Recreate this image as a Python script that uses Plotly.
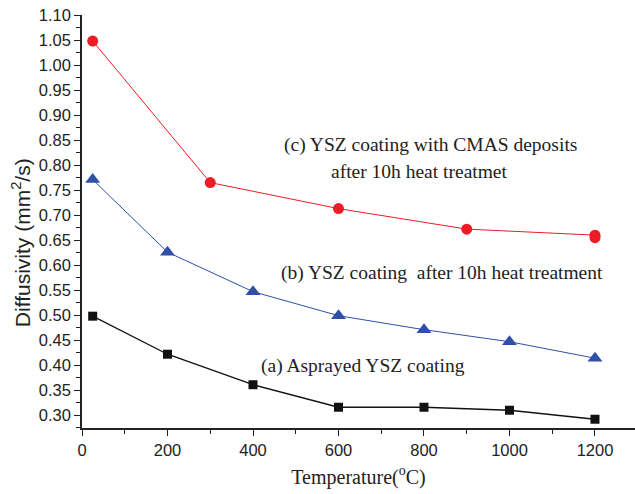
import plotly.graph_objects as go

temp_a = [25, 200, 400, 600, 800, 1000, 1200]
diff_a = [0.498, 0.422, 0.361, 0.316, 0.316, 0.310, 0.292]

temp_b = [25, 200, 400, 600, 800, 1000, 1200]
diff_b = [0.771, 0.626, 0.547, 0.499, 0.471, 0.447, 0.414]

temp_c = [25, 300, 600, 900, 1200, 1200]
diff_c = [1.048, 0.765, 0.713, 0.672, 0.660, 0.655]

x_ticks = [0, 200, 400, 600, 800, 1000, 1200]

fig = go.Figure()
fig.add_trace(go.Scatter(x=temp_a, y=diff_a, mode="lines+markers",
                         line=dict(color="#111111", width=1.3),
                         marker=dict(symbol="square", size=9, color="#111111")))
fig.add_trace(go.Scatter(x=temp_b, y=diff_b, mode="lines+markers",
                         line=dict(color="#2f4fa8", width=1),
                         marker=dict(symbol="triangle-up", size=13, color="#2f4fa8")))
fig.add_trace(go.Scatter(x=temp_c, y=diff_c, mode="lines+markers",
                         line=dict(color="#ee1c25", width=1),
                         marker=dict(symbol="circle", size=11, color="#ee1c25")))

serif = "Liberation Serif, Times New Roman, serif"
sans = "Liberation Sans, Arial, sans-serif"

PX_X = 553 / 1293.6  # px per data unit (x)
ann = [
    (430, 0.840, "(c) YSZ coating with CMAS deposits"),
    (419, 0.788, "after 10h heat treatmet"),
    (442, 0.584, "(b) YSZ coating \u00a0after 10h heat treatment"),
    (363, 0.398, "(a) Asprayed YSZ coating"),
]
for x, y, t in ann:
    fig.add_annotation(x=(x - 82) / PX_X, y=y, xref="x", yref="y", text=t,
                       showarrow=False, xanchor="center", yanchor="middle",
                       font=dict(family=serif, size=19.5, color="#222222"))

fig.add_annotation(x=(21 - 82) / 553, y=0.644, xref="paper", yref="y",
                   text="Diffusivity (mm<sup>2</sup>/s)", textangle=-90,
                   showarrow=False, xanchor="center", yanchor="middle",
                   font=dict(family=sans, size=21, color="#222"))

fig.update_layout(
    width=635, height=494,
    margin=dict(l=82, r=0, t=15, b=66),
    paper_bgcolor="white", plot_bgcolor="white",
    showlegend=False,
    xaxis=dict(range=[0, 1293.6], tickvals=x_ticks, ticks="outside", ticklen=6,
               tickwidth=1.2, tickcolor="#222", showline=True, linecolor="#222",
               linewidth=1.5, showgrid=False, zeroline=False,
               tickfont=dict(family=sans, size=16.5, color="#222"),
               minor=dict(dtick=100, tick0=0, ticks="outside", ticklen=4, tickcolor="#222", showgrid=False),
               title=dict(text="Temperature(<sup>o</sup>C)", font=dict(family=serif, size=20, color="#222"), standoff=12)),
    yaxis=dict(range=[0.2745, 1.10], tick0=0.30, dtick=0.05, tickformat=".2f",
               ticks="outside", ticklen=6, tickwidth=1.2, tickcolor="#222",
               showline=True, linecolor="#222", linewidth=1.5, showgrid=False, zeroline=False,
               tickfont=dict(family=sans, size=16.5, color="#222"),
               minor=dict(dtick=0.025, tick0=0.30, ticks="outside", ticklen=4, tickcolor="#222", showgrid=False)),
)

fig.write_html("out.html")
